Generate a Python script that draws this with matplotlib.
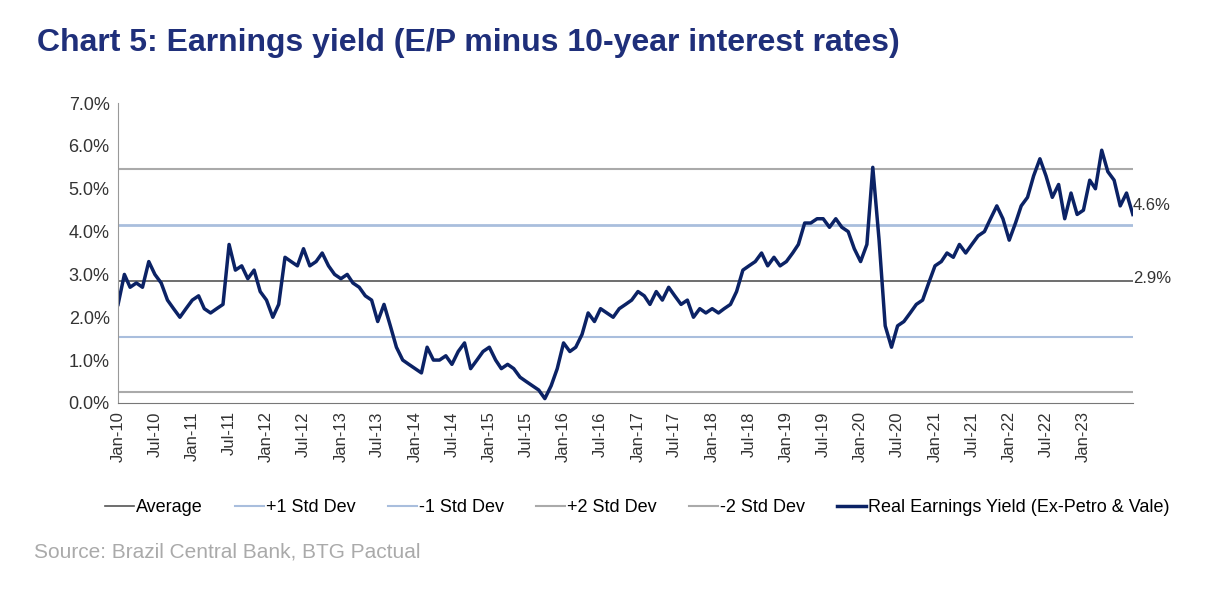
import numpy as np
import matplotlib.pyplot as plt
import pandas as pd
from matplotlib.lines import Line2D

plt.rcParams['font.family'] = ['Liberation Sans', 'DejaVu Sans']

# Monthly readings of the real earnings yield (%), Jan-10 .. Sep-23
y2010 = [2.3, 3.0, 2.7, 2.8, 2.7, 3.3, 3.0, 2.8, 2.4, 2.2, 2.0, 2.2]
y2011 = [2.4, 2.5, 2.2, 2.1, 2.2, 2.3, 3.7, 3.1, 3.2, 2.9, 3.1, 2.6]
y2012 = [2.4, 2.0, 2.3, 3.4, 3.3, 3.2, 3.6, 3.2, 3.3, 3.5, 3.2, 3.0]
y2013 = [2.9, 3.0, 2.8, 2.7, 2.5, 2.4, 1.9, 2.3, 1.8, 1.3, 1.0, 0.9]
y2014 = [0.8, 0.7, 1.3, 1.0, 1.0, 1.1, 0.9, 1.2, 1.4, 0.8, 1.0, 1.2]
y2015 = [1.3, 1.0, 0.8, 0.9, 0.8, 0.6, 0.5, 0.4, 0.3, 0.1, 0.4, 0.8]
y2016 = [1.4, 1.2, 1.3, 1.6, 2.1, 1.9, 2.2, 2.1, 2.0, 2.2, 2.3, 2.4]
y2017 = [2.6, 2.5, 2.3, 2.6, 2.4, 2.7, 2.5, 2.3, 2.4, 2.0, 2.2, 2.1]
y2018 = [2.2, 2.1, 2.2, 2.3, 2.6, 3.1, 3.2, 3.3, 3.5, 3.2, 3.4, 3.2]
y2019 = [3.3, 3.5, 3.7, 4.2, 4.2, 4.3, 4.3, 4.1, 4.3, 4.1, 4.0, 3.6]
y2020 = [3.3, 3.7, 5.5, 3.8, 1.8, 1.3, 1.8, 1.9, 2.1, 2.3, 2.4, 2.8]
y2021 = [3.2, 3.3, 3.5, 3.4, 3.7, 3.5, 3.7, 3.9, 4.0, 4.3, 4.6, 4.3]
y2022 = [3.8, 4.2, 4.6, 4.8, 5.3, 5.7, 5.3, 4.8, 5.1, 4.3, 4.9, 4.4]
y2023 = [4.5, 5.2, 5.0, 5.9, 5.4, 5.2, 4.6, 4.9, 4.4]

yield_vals = y2010 + y2011 + y2012 + y2013 + y2014 + y2015 + y2016 + y2017 + y2018 + y2019 + y2020 + y2021 + y2022 + y2023
dates = pd.date_range('2010-01-01', periods=len(yield_vals), freq='MS')

average = 2.85
std = 1.3
last_label = '4.6%'

fig = plt.figure(figsize=(12.3, 5.96), dpi=100)
ax = fig.add_axes([0.096, 0.324, 0.825, 0.503])

navy = '#0b2265'
ax.axhline(average, color='#555555', lw=1.2)
ax.axhline(average + std, color='#a9bedd', lw=2)
ax.axhline(average - std, color='#a9bedd', lw=1.5)
ax.axhline(average + 2 * std, color='#aaaaaa', lw=1.5)
ax.axhline(average - 2 * std, color='#aaaaaa', lw=1.5)
ax.plot(dates, yield_vals, color=navy, lw=2.5)

ax.set_xlim(dates[0], dates[-1])
ax.set_ylim(0, 7)
ax.set_yticks(np.arange(0, 7.1, 1))
ax.set_yticklabels([f'{v:.1f}%' for v in np.arange(0, 7.1, 1)], fontsize=13, color='#333333')
ticks = pd.date_range('2010-01-01', '2023-01-01', freq='6MS')
ax.set_xticks(ticks)
ax.set_xticklabels([d.strftime('%b-%y') for d in ticks], rotation=90, fontsize=12, color='#333333')
ax.tick_params(length=0, pad=6)
for s in ['top', 'right']:
    ax.spines[s].set_visible(False)
ax.spines['left'].set_color('#999999')
ax.spines['bottom'].set_color('#777777')

ax.text(dates[-1], yield_vals[-1] + 0.2, last_label, fontsize=12, color='#333333', va='center', ha='left')
ax.text(dates[-1], average + 0.05, '2.9%', fontsize=12, color='#333333', va='center', ha='left')

fig.text(0.03, 0.915, 'Chart 5: Earnings yield (E/P minus 10-year interest rates)', fontsize=23,
         fontweight='bold', color='#1f2f7a')

handles = [Line2D([], [], color='#555555', lw=1.2), Line2D([], [], color='#a9bedd', lw=1.5),
           Line2D([], [], color='#a9bedd', lw=1.5), Line2D([], [], color='#aaaaaa', lw=1.5),
           Line2D([], [], color='#aaaaaa', lw=1.5), Line2D([], [], color=navy, lw=2.5)]
labels = ['Average', '+1 Std Dev', '-1 Std Dev', '+2 Std Dev', '-2 Std Dev', 'Real Earnings Yield (Ex-Petro & Vale)']
fig.legend(handles, labels, loc='center', bbox_to_anchor=(0.518, 0.148), ncol=6, frameon=False,
           fontsize=13, handlelength=1.6, handletextpad=0.1, columnspacing=1.8)

fig.text(0.028, 0.065, 'Source: Brazil Central Bank, BTG Pactual', fontsize=15, color='#aaaaaa')

fig.savefig('out.png', dpi=100)
